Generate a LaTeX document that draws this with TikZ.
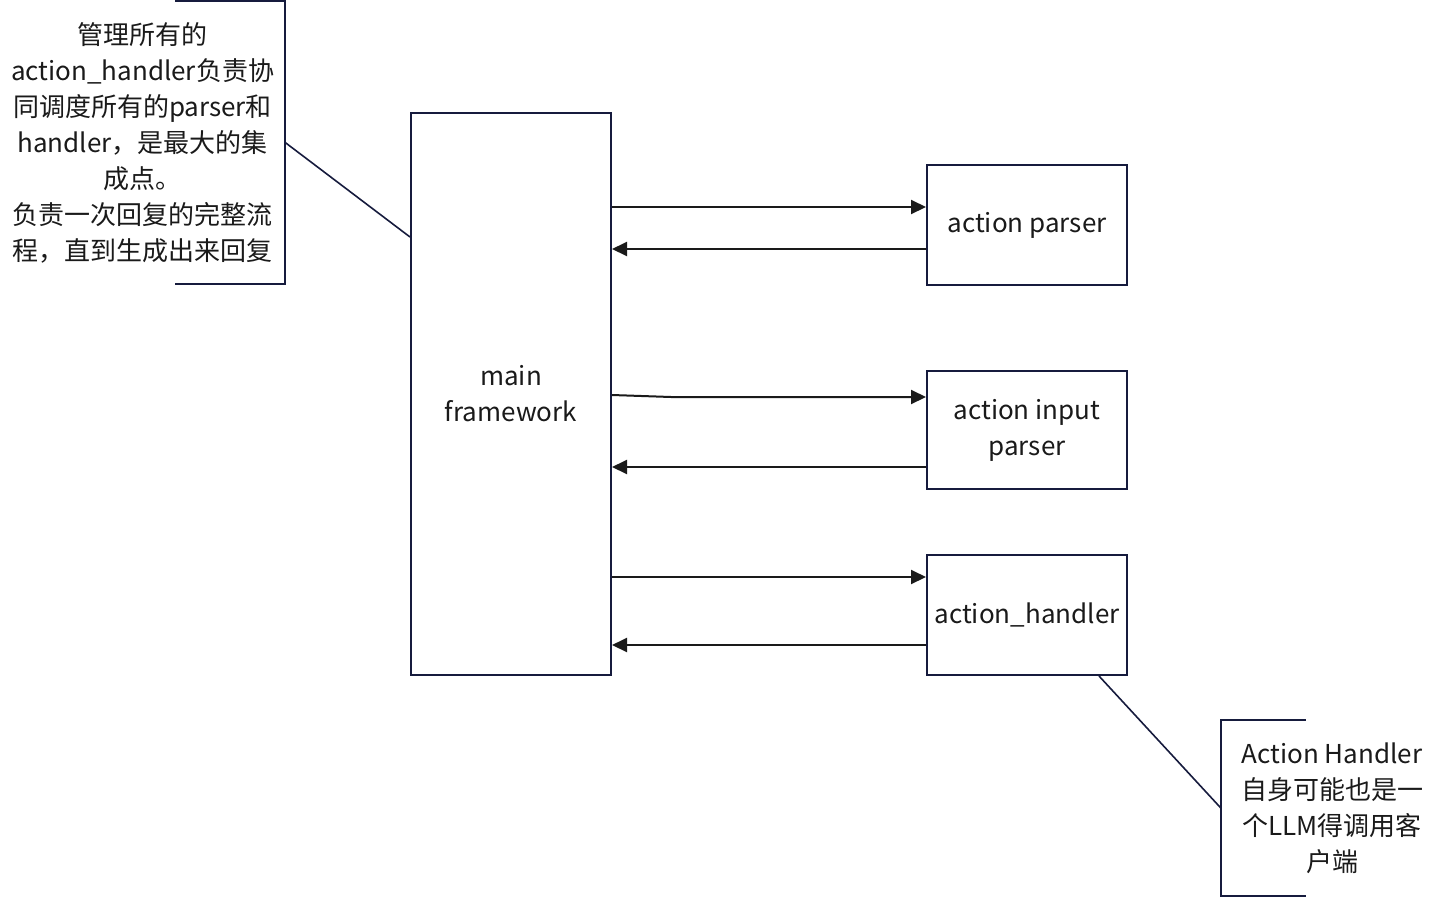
\documentclass[tikz,border=0pt]{standalone}
\usepackage{fontspec}
\setmainfont{Noto Sans CJK SC}
\usetikzlibrary{arrows.meta}

\definecolor{boxline}{HTML}{161B3D}
\definecolor{inkline}{HTML}{1A1A1A}

\tikzset{
  box/.style={draw=boxline,line width=2pt,rectangle,inner sep=0pt,align=center,
    minimum width=200pt,text=inkline},
  note/.style={rectangle,inner sep=0pt,align=center,text=inkline},
  flow/.style={draw=inkline,line width=2pt,-{Triangle[length=15pt,width=14pt]}},
  callout/.style={draw=boxline,line width=1.6pt}
}

\begin{document}
\begin{tikzpicture}[x=1pt,y=-1pt,font=\fontsize{26}{36}\selectfont]

  \useasboundingbox (0,0) rectangle (1440,900);

  % Specification of nodes (position, etc.)
  \node[box,minimum height=562pt] (main) at (511,394) {main\\framework};
  \node[box,minimum height=120pt] (ap) at (1027,225) {action parser};
  \node[box,minimum height=118pt] (aip) at (1027,430) {action input\\parser};
  \node[box,minimum height=120pt] (ah) at (1027,615) {action\_handler};

  \node[note,minimum width=285pt,minimum height=283pt] (lnote) at (142.5,142.5)
    {管理所有的\\action\_handler负责协\\同调度所有的parser和\\handler，是最大的集\\成点。\\负责一次回复的完整流\\程，直到生成出来回复};
  \node[note,minimum width=222pt,minimum height=176pt] (rnote) at (1332,808)
    {Action Handler\\自身可能也是一\\个LLM得调用客\\户端};

  % requests and replies
  \draw[flow] ([yshift=18pt]ap.west -| main.east) -- ([yshift=18pt]ap.west);
  \draw[flow] ([yshift=-24pt]ap.west) -- ([yshift=-24pt]ap.west -| main.east);
  \draw[flow] ([yshift=35pt]aip.west -| main.east) -- ++(59,2) -- ([yshift=33pt]aip.west);
  \draw[flow] ([yshift=-37pt]aip.west) -- ([yshift=-37pt]aip.west -| main.east);
  \draw[flow] ([yshift=38pt]ah.west -| main.east) -- ([yshift=38pt]ah.west);
  \draw[flow] ([yshift=-30pt]ah.west) -- ([yshift=-30pt]ah.west -| main.east);

  % callouts
  \draw[callout] ([xshift=-110pt]lnote.north east) -- (lnote.north east)
    -- (lnote.south east) -- ([xshift=-110pt]lnote.south east);
  \draw[callout] (lnote.east) -- ([yshift=157pt]main.west);
  \draw[callout] ([xshift=85pt]rnote.north west) -- (rnote.north west)
    -- (rnote.south west) -- ([xshift=85pt]rnote.south west);
  \draw[callout] ([xshift=-29pt]ah.south east) -- (rnote.west);

\end{tikzpicture}
\end{document}
